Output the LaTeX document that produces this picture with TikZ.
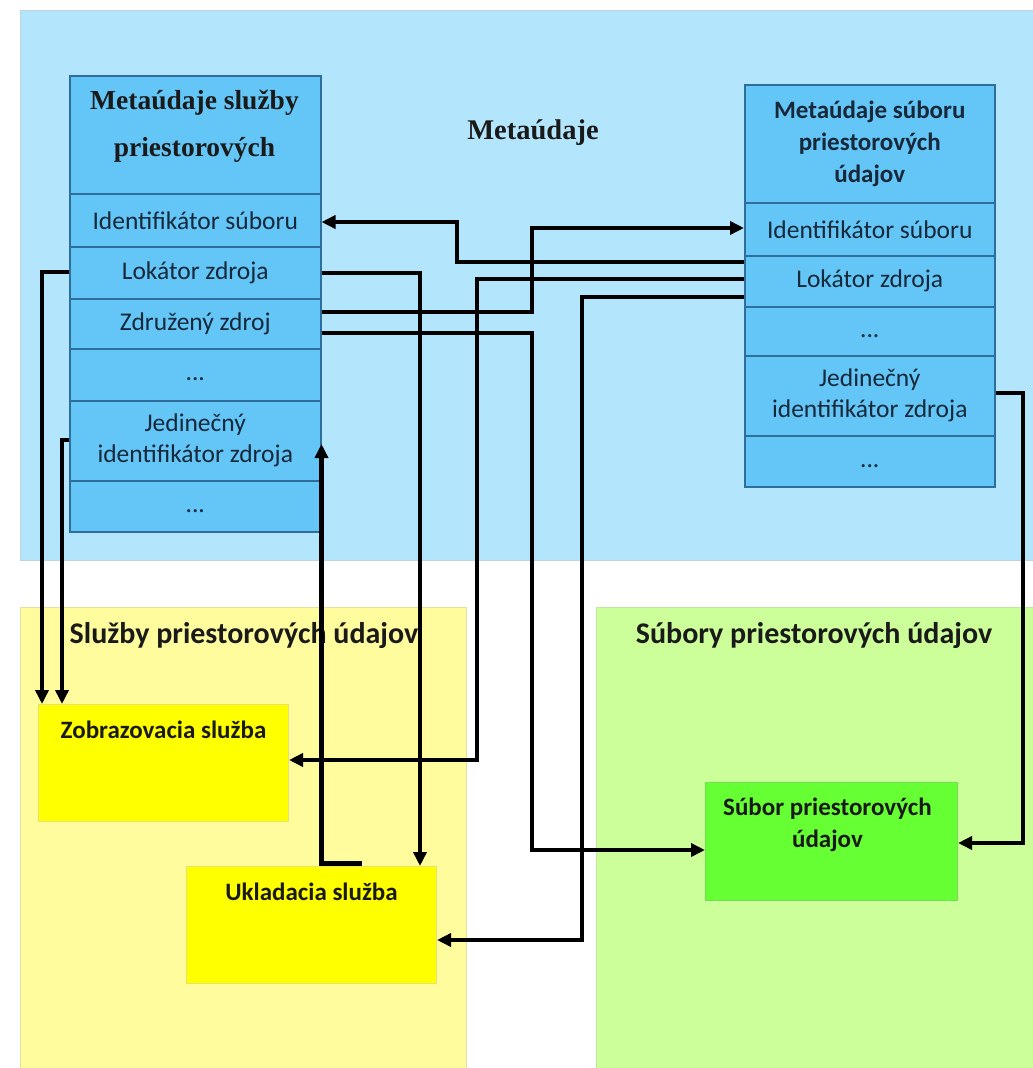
\documentclass[tikz,border=0pt]{standalone}
\usepackage{fontspec}
\setmainfont{Carlito}
\newfontfamily\tnr{Liberation Serif}
\usetikzlibrary{arrows.meta,calc}
\definecolor{metabg}{HTML}{B3E5FC}
\definecolor{metaline}{HTML}{C3D3DB}
\definecolor{cellfill}{HTML}{64C6F7}
\definecolor{cellline}{HTML}{2F6D9A}
\definecolor{txt}{HTML}{16283A}
\definecolor{dark}{HTML}{1A1A1A}
\definecolor{svcbg}{HTML}{FFFC9E}
\definecolor{svcline}{HTML}{E6E0A0}
\definecolor{svcbox}{HTML}{FFFF00}
\definecolor{svcboxline}{HTML}{E8E070}
\definecolor{filebg}{HTML}{CCFF99}
\definecolor{fileline}{HTML}{C0E8A0}
\definecolor{filebox}{HTML}{66FF33}
\definecolor{fileboxline}{HTML}{70E050}
\tikzset{
  cell/.style={draw=cellline, line width=1.5pt, fill=cellfill, minimum width=251pt,
    inner sep=0pt, text=txt, font=\fontsize{25.5}{31}\selectfont, align=center, anchor=north west},
  region/.style={line width=1pt},
  sbox/.style={fill=svcbox, draw=svcboxline, line width=1pt, minimum width=250pt, minimum height=117pt, inner sep=0pt, anchor=north west},
  fbox/.style={fill=filebox, draw=fileboxline, line width=1pt, minimum width=252pt, minimum height=118pt, inner sep=0pt, anchor=north west},
  boxtext/.style={text=dark, font=\bfseries\fontsize{25}{32}\selectfont, align=center},
  title/.style={text=dark, font=\bfseries\fontsize{30}{36}\selectfont},
  conn/.style={line width=4.2pt, -{Triangle[length=14pt,width=13pt]}},
}
\begin{document}
\begin{tikzpicture}[x=1pt,y=-1pt]
\useasboundingbox (0,0) rectangle (1033,1068);
\fill[white] (0,0) rectangle (1033,1068);
% regions
\fill[metabg, draw=metaline, region] (20,10) rectangle (1040,560);
\fill[svcbg, draw=svcline, region] (20,607) rectangle (466,1075);
\fill[filebg, draw=fileline, region] (596,607) rectangle (1040,1075);
\node[text=dark, font=\tnr\bfseries\fontsize{28.5}{34}\selectfont] (metatitle) at (533,133) {Metaúdaje};
\node[title] (svctitle) at (244,636) {Služby priestorových údajov};
\node[title] (filetitle) at (814,636) {Súbory priestorových údajov};
% left table
\node[cell, minimum height=118pt] (lh) at (69,75) {};
\node[text=dark, font=\tnr\bfseries\fontsize{27.5}{47}\selectfont, align=center] (lhtext) at (194.5,126.5) {Metaúdaje služby\\priestorových};
\node[cell, minimum height=53pt] (l1) at (69,193) {Identifikátor súboru};
\node[cell, minimum height=52pt] (l2) at (69,246) {Lokátor zdroja};
\node[cell, minimum height=50pt] (l3) at (69,298) {Združený zdroj};
\node[cell, minimum height=52pt] (l4) at (69,348) {\strut...};
\node[cell, minimum height=80pt] (l5) at (69,400) {Jedinečný\\identifikátor zdroja};
\node[cell, minimum height=51pt] (l6) at (69,480) {\strut...};
% right table
\node[cell, minimum width=250pt, minimum height=118pt, font=\bfseries\fontsize{25}{32}\selectfont] (rh) at (744,84) {Metaúdaje súboru\\priestorových\\údajov};
\node[cell, minimum width=250pt, minimum height=53pt] (r1) at (744,202) {Identifikátor súboru};
\node[cell, minimum width=250pt, minimum height=51pt] (r2) at (744,255) {Lokátor zdroja};
\node[cell, minimum width=250pt, minimum height=49pt] (r3) at (744,306) {\strut...};
\node[cell, minimum width=250pt, minimum height=80pt] (r4) at (744,355) {Jedinečný\\identifikátor zdroja};
\node[cell, minimum width=250pt, minimum height=51pt] (r5) at (744,435) {\strut...};
% service boxes
\node[sbox] (zob) at (38,704) {};
\node[boxtext] (zobtext) at ($(zob.north)+(0,26)$) {Zobrazovacia služba};
\node[sbox] (ukl) at (186,866) {};
\node[boxtext] (ukltext) at ($(ukl.north)+(0,26)$) {Ukladacia služba};
\node[fbox] (sub) at (705,782) {};
\node[boxtext] (subtext) at ($(sub.north)+(-4,43)$) {Súbor priestorových\\údajov};
% connectors
\draw[conn] (r2.west |- 0,262) -- (457,262) -- (457,222) -- (l1.east |- 0,222);
\draw[conn] (r2.west |- 0,279) -- (477,279) |- (zob.east |- 0,760);
\draw[conn] (r2.west |- 0,297) -- (582,297) |- (ukl.east |- 0,940);
\draw[conn] (l2.east |- 0,273) -| (ukl.north -| 420,0);
\draw[conn] (l2.west |- 0,272) -| (zob.north -| 42,0);
\draw[conn] (l3.east |- 0,312) -- (532,312) |- (r1.west |- 0,228);
\draw[conn] (l3.east |- 0,333) -- (532,333) |- (sub.west |- 0,850);
\draw[conn] (l5.west |- 0,440) -| (zob.north -| 62,0);
\draw[conn] ($(ukl.north -| 362,0)+(0,-2.5)$) -| (l5.east |- 0,444);
\draw[conn] (r4.east |- 0,393) -- (1023,393) |- (sub.east |- 0,843);
\end{tikzpicture}
\end{document}
